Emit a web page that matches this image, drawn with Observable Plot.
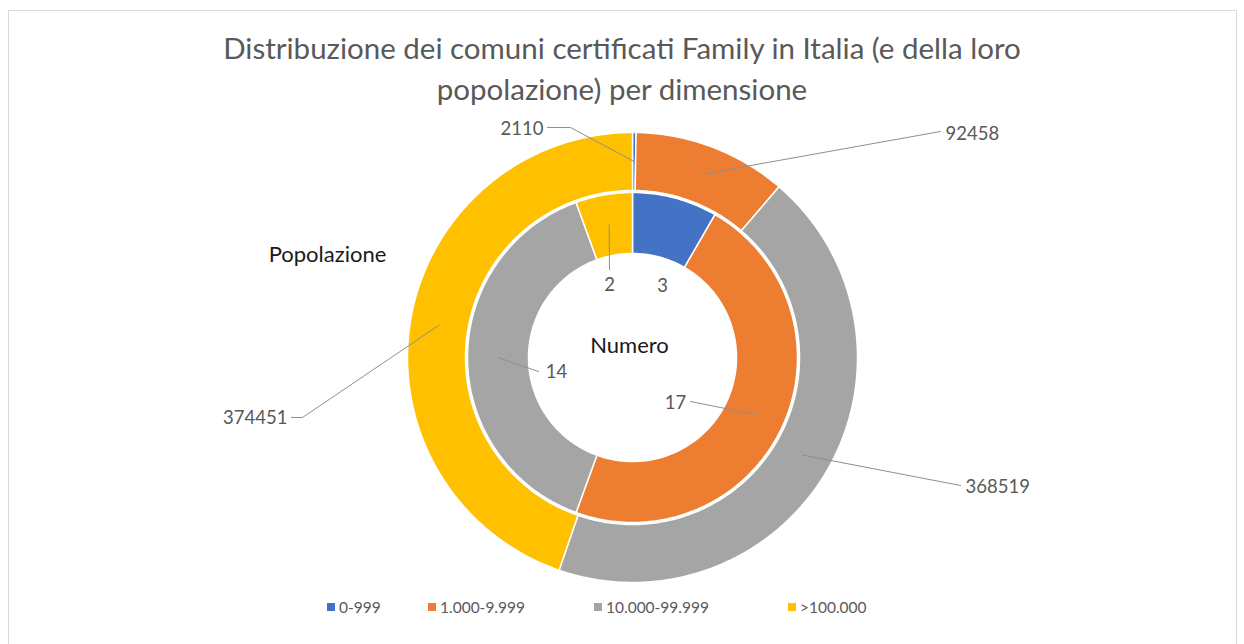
<!DOCTYPE html>
<html>
<head>
<meta charset="utf-8">
<script src="https://cdn.jsdelivr.net/npm/d3@7"></script>
<script src="https://cdn.jsdelivr.net/npm/@observablehq/plot@0.6"></script>
<style>
  html, body { margin: 0; padding: 0; background: #fff; }
  body { width: 1244px; height: 644px; position: relative; overflow: hidden; font-family: Lato, "Open Sans", sans-serif; }
  #frame { position: absolute; left: 8px; top: 10px; width: 1229px; height: 650px; border: 1px solid #d9d9d9; box-sizing: border-box; }
  #title { position: absolute; left: 0; top: 27px; width: 1244px; text-align: center; color: #595959; font-size: 29.5px; line-height: 41px; }
  #chart { position: absolute; left: 0; top: 115px; }
  #legend { position: absolute; left: 0; top: 597px; width: 1244px; height: 20px; color: #595959; font-size: 15.5px; }
  .item { position: absolute; top: 0; display: flex; align-items: center; height: 20px; white-space: nowrap; }
  .sw { width: 8px; height: 8px; margin-right: 4px; }
</style>
</head>
<body>
<div id="frame"></div>
<div id="title">Distribuzione dei comuni certificati Family in Italia (e della loro<br>popolazione) per dimensione</div>
<div id="chart"></div>
<div id="legend"></div>
<script>
// ---- data ----
const categories = ["0-999", "1.000-9.999", "10.000-99.999", ">100.000"];
const numero = [3, 17, 14, 2];
const popolazione = [2110, 92458, 368519, 374451];
const ringNames = ["Numero", "Popolazione"];
const colors = ["#4472C4", "#ED7D31", "#A5A5A5", "#FFC000"];

// ---- layout (pixels) ----
const W = 1244, H = 475;
const R = 225;            // outer radius
const cx = 632, cy = 242; // centre of donut inside the svg
const rings = [
  {name: ringNames[0], values: numero, r0: 104, r1: 165},
  {name: ringNames[1], values: popolazione, r0: 167, r1: 225}
];
// label placement relative to centre (px, y downward) and leader elbows
const labelLayout = [
  {ring: 1, i: 0, lx: -89, ly: -228, anchor: "end",    leader: [[-85, -230], [-62, -230]]},
  {ring: 1, i: 1, lx: 313, ly: -223, anchor: "start",  leader: [[308, -226]]},
  {ring: 1, i: 2, lx: 333, ly: 130,  anchor: "start",  leader: [[328, 128]]},
  {ring: 1, i: 3, lx: -345, ly: 61,  anchor: "end",    leader: [[-341, 60], [-330, 60]]},
  {ring: 0, i: 0, lx: 30, ly: -71,   anchor: "middle", leader: null},
  {ring: 0, i: 1, lx: 43, ly: 46,    anchor: "middle", leader: [[58, 44]]},
  {ring: 0, i: 2, lx: -76, ly: 15,   anchor: "middle", leader: [[-94, 14]]},
  {ring: 0, i: 3, lx: -23, ly: -72,  anchor: "middle", leader: [[-23, -88]]}
];
const ringNameLayout = [
  {ring: 0, lx: -3, ly: -12},
  {ring: 1, lx: -305, ly: -103}
];
const legendX = [327, 428, 594, 788];

// ---- geometry from the data ----
const polys = [];
const sliceInfo = [];
rings.forEach((ring, ri) => {
  const arcs = d3.pie().sort(null).value(d => d)(ring.values);
  sliceInfo[ri] = [];
  arcs.forEach((a, i) => {
    const id = ri + "-" + i;
    const n = Math.max(2, Math.ceil((a.endAngle - a.startAngle) / (Math.PI / 180)));
    for (let k = 0; k <= n; k++) {
      const t = a.startAngle + (a.endAngle - a.startAngle) * k / n;
      polys.push({id, cat: categories[i], x: ring.r1 / R * Math.sin(t), y: ring.r1 / R * Math.cos(t)});
    }
    for (let k = n; k >= 0; k--) {
      const t = a.startAngle + (a.endAngle - a.startAngle) * k / n;
      polys.push({id, cat: categories[i], x: ring.r0 / R * Math.sin(t), y: ring.r0 / R * Math.cos(t)});
    }
    const mid = (a.startAngle + a.endAngle) / 2;
    const rm = (ring.r0 + ring.r1) / 2 / R;
    sliceInfo[ri][i] = {x: rm * Math.sin(mid), y: rm * Math.cos(mid), value: ring.values[i]};
  });
});

const labels = labelLayout.map(l => ({
  x: l.lx / R, y: -l.ly / R, anchor: l.anchor,
  text: String(sliceInfo[l.ring][l.i].value)
}));
const leaders = [];
labelLayout.forEach((l, k) => {
  if (!l.leader) return;
  l.leader.forEach(p => leaders.push({id: k, x: p[0] / R, y: -p[1] / R}));
  const s = sliceInfo[l.ring][l.i];
  leaders.push({id: k, x: s.x, y: s.y});
});
const names = ringNameLayout.map(n => ({x: n.lx / R, y: -n.ly / R, text: rings[n.ring].name}));

const textOpts = {x: "x", y: "y", text: "text", fill: "#595959", fontSize: 18.5, fontFamily: "Lato, 'Open Sans', sans-serif"};

const plot = Plot.plot({
  width: W,
  height: H,
  margin: 0,
  x: {domain: [-cx / R, (W - cx) / R], axis: null},
  y: {domain: [-(H - cy) / R, cy / R], axis: null},
  color: {domain: categories, range: colors},
  style: {background: "transparent", overflow: "visible"},
  marks: [
    Plot.line(polys, {x: "x", y: "y", z: "id", fill: "cat", stroke: "#ffffff", strokeWidth: 1.5, curve: "linear-closed"}),
    Plot.line(leaders, {x: "x", y: "y", z: "id", stroke: "#8f8f8f", strokeWidth: 1, curve: "linear"}),
    Plot.text(labels.filter(d => d.anchor === "end"), {...textOpts, textAnchor: "end"}),
    Plot.text(labels.filter(d => d.anchor === "start"), {...textOpts, textAnchor: "start"}),
    Plot.text(labels.filter(d => d.anchor === "middle"), {...textOpts, textAnchor: "middle"}),
    Plot.text(names, {x: "x", y: "y", text: "text", fill: "#1a1a1a", fontSize: 22, fontFamily: "Lato, 'Open Sans', sans-serif"})
  ]
});
document.getElementById("chart").appendChild(plot);

// ---- legend ----
const legend = document.getElementById("legend");
categories.forEach((c, i) => {
  const item = document.createElement("div");
  item.className = "item";
  item.style.left = legendX[i] + "px";
  const sw = document.createElement("span");
  sw.className = "sw";
  sw.style.background = colors[i];
  const tx = document.createElement("span");
  tx.textContent = c;
  item.appendChild(sw);
  item.appendChild(tx);
  legend.appendChild(item);
});
</script>
</body>
</html>
